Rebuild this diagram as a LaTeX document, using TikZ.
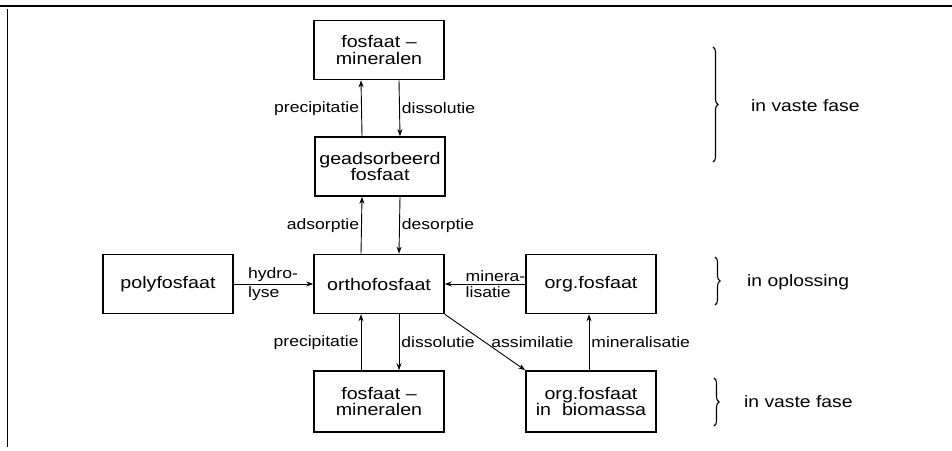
\documentclass[tikz,border=0pt]{standalone}
\usepackage{fontspec}
\setmainfont{Liberation Sans}[FakeStretch=1.17]
\usetikzlibrary{arrows.meta,decorations.pathreplacing}
\begin{document}
\begin{tikzpicture}[x=1pt,y=-1pt,
  box/.style={draw, line width=1.6pt, minimum width=130pt, minimum height=59pt,
    align=center, inner sep=2pt, font=\fontsize{16.8}{16.5}\selectfont},
  arr/.style={line width=0.9pt, -{Stealth[length=7pt,width=5pt]}},
  lab/.style={font=\fontsize{15}{15}\selectfont, inner sep=2pt},
  side/.style={font=\fontsize{16.5}{17}\selectfont, anchor=west, inner sep=0pt},
  brc/.style={decorate, decoration={brace, amplitude=5pt}, line width=1.1pt}]
\useasboundingbox (0,0) rectangle (952,450);
% frame
\draw[line width=1.4pt] (0,6) -- (952,6);
\draw[line width=0.8pt] (7,9) -- (7,447);
% boxes
\node[box] (m1) at (379,50) {fosfaat –\\mineralen};
\node[box] (ads) at (380,166.5) {geadsorbeerd\\fosfaat};
\node[box] (ortho) at (379,284) {orthofosfaat};
\node[box] (poly) at (168,284) {polyfosfaat};
\node[box] (org) at (591,284) {org.fosfaat};
\node[box, minimum height=61pt] (m2) at (379,401.5) {fosfaat –\\mineralen};
\node[box, minimum height=61pt] (bio) at (591,401.5) {org.fosfaat\\in\ \ biomassa};
% connectors
\draw[arr] ([xshift=-18pt]ads.north) -- node[lab,left]{precipitatie} ([xshift=-18pt]m1.south);
\draw[arr] ([xshift=20pt]m1.south) -- node[lab,right]{dissolutie} ([xshift=20pt]ads.north);
\draw[arr] ([xshift=-18pt]ortho.north) -- node[lab,left]{adsorptie} ([xshift=-18pt]ads.south);
\draw[arr] ([xshift=20pt]ads.south) -- node[lab,right]{desorptie} ([xshift=20pt]ortho.north);
\draw[arr] ([xshift=-18pt]m2.north) -- node[lab,left]{precipitatie} ([xshift=-18pt]ortho.south);
\draw[arr] ([xshift=20pt]ortho.south) -- node[lab,right]{dissolutie} ([xshift=20pt]m2.north);
\draw[arr] (poly.east) -- (ortho.west)
  node[lab,pos=0.15,anchor=south west]{hydro-}
  node[lab,pos=0.15,anchor=north west]{lyse};
\draw[arr] (org.west) -- (ortho.east)
  node[lab,pos=0.77,anchor=south west]{minera-}
  node[lab,pos=0.77,anchor=north west]{lisatie};
\draw[arr] (ortho.south east) -- node[lab,anchor=west,pos=0.5,xshift=4pt]{assimilatie} (bio.north west);
\draw[arr] ([xshift=-2pt]bio.north) -- node[lab,right]{mineralisatie} ([xshift=-2pt]org.south);
% braces and phase labels
\draw[brc] (713,47) -- (713,162);
\draw[brc] (715,257) -- (715,305);
\draw[brc] (714,378) -- (714,426);
\node[side] (t1) at (751,106) {in vaste fase};
\node[side] (t2) at (747,282) {in oplossing};
\node[side] (t3) at (744,402) {in vaste fase};
\end{tikzpicture}
\end{document}
